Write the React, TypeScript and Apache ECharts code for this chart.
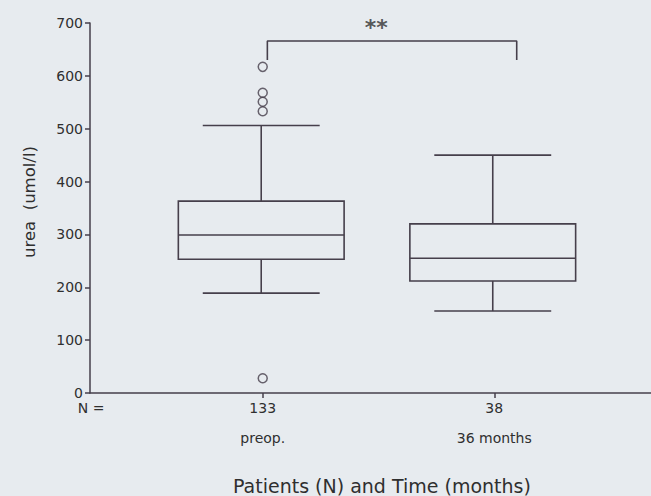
import React, { useEffect, useRef } from "react";
import * as echarts from "echarts";

// ---- data ----
const categories = ["preop.", "36 months"];
const nValues = [133, 38];
// [low whisker, Q1, median, Q3, high whisker]
const boxStats = [
  [189, 253, 299, 363, 506],
  [155, 212, 255, 320, 450],
];
// outliers: [group position, value]
const outliers = [
  [1, 617],
  [1, 568],
  [1, 551],
  [1, 533],
  [1, 28],
];
const yTicks = [0, 100, 200, 300, 400, 500, 600, 700];
// significance bracket (x in group units, y in umol/l)
const bracketPath = [
  [1.02, 630],
  [1.02, 666],
  [2.097, 666],
  [2.097, 630],
];
const sigLabel = "**";
const sigPos = [1.49, 692];

const LINE = "#463f4b";
const TEXT = "#2f2f2f";
const BG = "#e7ebef";
const FONT = "DejaVu Sans";

export default function App() {
  const ref = useRef<HTMLDivElement>(null);
  useEffect(() => {
    if (!ref.current) return;
    const chart = echarts.init(ref.current, undefined, { renderer: "svg" });
    const boxData = boxStats.map((s, i) => [i + 1, ...s]);
    chart.setOption({
      animation: false,
      backgroundColor: BG,
      textStyle: { fontFamily: FONT },
      grid: { left: 90, right: 0, top: 23, bottom: 103, containLabel: false },
      xAxis: {
        type: "value",
        min: 0.254,
        max: 2.677,
        splitLine: { show: false },
        axisLine: { show: true, lineStyle: { color: LINE, width: 1.5 } },
        axisTick: {
          show: true,
          customValues: [1, 2],
          length: 5,
          lineStyle: { color: LINE, width: 1.5 },
        },
        axisLabel: {
          customValues: [0.259, 1, 2],
          margin: 5,
          color: TEXT,
          fontFamily: FONT,
          formatter: (v: number) => {
            if (v < 0.5) return "{n|N =}";
            const i = Math.round(v) - 1;
            return `{n|${nValues[i]}}\n{c|${categories[i]}}`;
          },
          rich: {
            n: { fontSize: 14, lineHeight: 20, color: TEXT, fontFamily: FONT },
            c: { fontSize: 14, lineHeight: 40, color: TEXT, fontFamily: FONT },
          },
        },
      },
      yAxis: {
        type: "value",
        min: 0,
        max: 700,
        interval: 100,
        name: "urea  (umol/l)",
        nameLocation: "middle",
        nameRotate: 90,
        nameGap: 52,
        nameTextStyle: { fontSize: 16.5, color: TEXT, fontFamily: FONT, padding: [0, 0, 0, 12] },
        splitLine: { show: false },
        axisLine: { show: true, lineStyle: { color: LINE, width: 1.5 } },
        axisTick: { show: true, length: 5, lineStyle: { color: LINE, width: 1.5 } },
        axisLabel: {
          margin: 7,
          fontSize: 14,
          color: TEXT,
          fontFamily: FONT,
          customValues: yTicks,
        },
      },
      graphic: [
        {
          type: "text",
          left: 233,
          top: 476,
          style: {
            text: "Patients (N) and Time (months)",
            fontSize: 19,
            fill: TEXT,
            fontFamily: FONT,
          },
        },
      ],
      series: [
        {
          type: "custom",
          data: boxData,
          encode: { x: 0, y: [1, 2, 3, 4, 5] },
          renderItem: (params: any, api: any) => {
            const x = api.value(0);
            const low = api.coord([x, api.value(1)]);
            const q1 = api.coord([x, api.value(2)]);
            const med = api.coord([x, api.value(3)]);
            const q3 = api.coord([x, api.value(4)]);
            const high = api.coord([x, api.value(5)]);
            const band = api.size([1, 0])[0];
            const cx = low[0] - 1.5;
            const bw = band * 0.716;
            const cw = band * 0.505;
            const style = { stroke: LINE, lineWidth: 1.6, fill: "none" };
            return {
              type: "group",
              children: [
                {
                  type: "rect",
                  shape: { x: cx - bw / 2, y: q3[1], width: bw, height: q1[1] - q3[1] },
                  style,
                },
                { type: "line", shape: { x1: cx - bw / 2, y1: med[1], x2: cx + bw / 2, y2: med[1] }, style },
                { type: "line", shape: { x1: cx, y1: q3[1], x2: cx, y2: high[1] }, style },
                { type: "line", shape: { x1: cx, y1: q1[1], x2: cx, y2: low[1] }, style },
                { type: "line", shape: { x1: cx - cw / 2, y1: high[1], x2: cx + cw / 2, y2: high[1] }, style },
                { type: "line", shape: { x1: cx - cw / 2, y1: low[1], x2: cx + cw / 2, y2: low[1] }, style },
              ],
            };
          },
          z: 2,
        },
        {
          type: "scatter",
          data: outliers,
          symbol: "circle",
          symbolSize: 9,
          itemStyle: { color: "rgba(0,0,0,0)", borderColor: LINE, borderWidth: 1.5 },
          z: 3,
        },
        {
          type: "line",
          data: bracketPath,
          showSymbol: false,
          symbol: "none",
          lineStyle: { color: LINE, width: 1.6 },
          z: 3,
        },
        {
          type: "scatter",
          data: [sigPos],
          symbolSize: 0,
          label: {
            show: true,
            position: "inside",
            formatter: sigLabel,
            fontSize: 22,
            fontWeight: "bold",
            color: TEXT,
            fontFamily: FONT,
          },
        },
      ],
    });
    return () => chart.dispose();
  }, []);
  return (
    <div
      ref={ref}
      style={{ position: "fixed", left: 0, top: 0, width: 651, height: 496, background: BG }}
    />
  );
}
